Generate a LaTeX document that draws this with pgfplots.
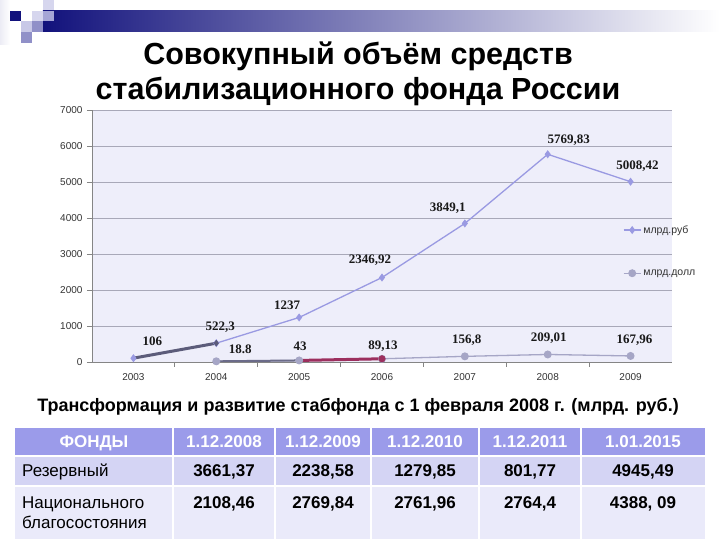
\documentclass[border=0pt]{standalone}
\usepackage{pgfplots}
\pgfplotsset{compat=1.18}
\usepackage{fontspec}
\setmainfont{Liberation Sans}
\newfontfamily\timesf{Liberation Serif}

\definecolor{navyc}{HTML}{12127C}
\definecolor{sqA}{HTML}{D6D6EE}
\definecolor{sqB}{HTML}{A6A6D6}
\definecolor{sqC}{HTML}{9090C8}
\definecolor{plotbg}{HTML}{EEEEFA}
\definecolor{gridc}{HTML}{A8A8B8}
\definecolor{axisgray}{HTML}{858585}
\definecolor{labgray}{HTML}{333333}
\definecolor{rub}{HTML}{9A9AE2}
\definecolor{usd}{HTML}{A6A6C6}
\definecolor{slate}{HTML}{5C5C7A}
\definecolor{maroon}{HTML}{9C2F5E}
\definecolor{hdr}{HTML}{9B9BEA}
\definecolor{rowa}{HTML}{D4D4F4}
\definecolor{rowb}{HTML}{EAEAFA}

\begin{document}
\begin{tikzpicture}[x=1pt,y=1pt]
% slide decoration, title, subtitle and table (image coordinates, y down)
\begin{scope}[shift={(-92,362)},yscale=-1]
  \fill[white] (0,0) rectangle (720,540);
  \useasboundingbox (0,0) rectangle (720,540);
  \shade[left color=white!92!navyc, right color=white] (0,0) rectangle (10,45);
  \shade[left color=navyc, right color=white] (43,11) rectangle (720,32);
  \fill[navyc] (10,11) rectangle (21,21);
  \fill[sqA] (43,0) rectangle (54,10);
  \fill[sqA] (32,11) rectangle (43,21);
  \fill[sqB] (43,11) rectangle (54,21);
  \fill[sqA!70!sqB] (21,21) rectangle (32,32);
  \fill[sqC] (32,21) rectangle (43,32);
  \fill[sqC] (21,32) rectangle (32,43);

  \node[anchor=base, font=\fontsize{30.5}{35}\selectfont\bfseries] at (358,65) {Совокупный объём средств};
  \node[anchor=base, font=\fontsize{30.5}{35}\selectfont\bfseries] at (358,100) {стабилизационного фонда России};

  \node[anchor=base, font=\fontsize{18}{21}\selectfont\bfseries] at (358,412)
    {Трансформация и развитие стабфонда с 1 февраля 2008 г. (млрд. руб.)};

  % table
  \fill[hdr] (15,428) rectangle (705,456);
  \fill[rowa] (15,456) rectangle (705,486);
  \fill[rowb] (15,486) rectangle (705,539);
  \foreach \cx in {173,275,371,479,581} \draw[white, line width=2pt] (\cx,428) -- (\cx,539);
  \foreach \ry in {456,486} \draw[white, line width=2pt] (15,\ry) -- (705,\ry);

  \begin{scope}[every node/.style={anchor=base, font=\fontsize{17}{20}\selectfont\bfseries}]
    \node[text=white] at (94,448) {ФОНДЫ};
    \node[text=white] at (224,448) {1.12.2008};
    \node[text=white] at (323,448) {1.12.2009};
    \node[text=white] at (425,448) {1.12.2010};
    \node[text=white] at (530,448) {1.12.2011};
    \node[text=white] at (643,448) {1.01.2015};
    \node at (224,477) {3661,37};
    \node at (323,477) {2238,58};
    \node at (425,477) {1279,85};
    \node at (530,477) {801,77};
    \node at (643,477) {4945,49};
    \node at (224,509) {2108,46};
    \node at (323,509) {2769,84};
    \node at (425,509) {2761,96};
    \node at (530,509) {2764,4};
    \node at (643,509) {4388, 09};
  \end{scope}
  \begin{scope}[every node/.style={anchor=base west, inner sep=0pt, font=\fontsize{17}{20}\selectfont}]
    \node at (22,477) {Резервный};
    \node at (22,509) {Национального};
    \node at (22,529) {благосостояния};
  \end{scope}
\end{scope}

\begin{axis}[
  at={(0,0)}, anchor=south west,
  width=580pt, height=252pt, scale only axis,
  xmin=-0.5, xmax=6.5, ymin=0, ymax=7000,
  axis x line*=bottom, axis y line*=left,
  axis line style={-, draw=axisgray, line width=0.8pt},
  axis background/.style={fill=plotbg},
  xtick={0,...,6},
  xticklabels={2003,2004,2005,2006,2007,2008,2009},
  minor xtick={0.5,1.5,...,5.5},
  ytick={0,1000,...,7000},
  ymajorgrids, grid style={draw=gridc, line width=0.7pt},
  tick align=outside, major tick length=5pt, minor tick length=5pt,
  tick style={draw=axisgray, line width=0.8pt},
  major x tick style={draw=none},
  ticklabel style={font=\fontsize{10}{12}\selectfont, text=labgray},
  xticklabel style={yshift=-3pt},
  yticklabel style={xshift=-1pt},
  /pgf/number format/1000 sep={},
  /pgf/number format/assume math mode=true,
  legend cell align=left,
  legend style={at={(0.91,0.44)}, anchor=west, draw=none, fill=none,
    font=\fontsize{10.5}{12}\selectfont, text=labgray, row sep=31pt},
]
\addplot[color=rub, line width=1.3pt, mark=diamond*, mark size=3pt]
  coordinates {(0,106) (1,522.3) (2,1237) (3,2346.92) (4,3849.1) (5,5769.83) (6,5008.42)};
\addlegendentry{млрд.руб}
\addplot[color=usd, line width=1.3pt, mark=*, mark size=3.3pt]
  coordinates {(1,18.8) (2,43) (3,89.13) (4,156.8) (5,209.01) (6,167.96)};
\addlegendentry{млрд.долл}

% highlighted segments
\addplot[forget plot, color=slate, line width=3pt] coordinates {(0,106) (1,522.3)};
\addplot[forget plot, color=slate!80!usd, line width=2pt] coordinates {(1,18.8) (2,43)};
\addplot[forget plot, color=maroon, line width=3pt] coordinates {(2,43) (3,89.13)};
\addplot[forget plot, only marks, mark=diamond*, mark size=3pt, color=rub] coordinates {(0,106)};
\addplot[forget plot, only marks, mark=diamond*, mark size=3pt, color=slate] coordinates {(1,522.3)};
\addplot[forget plot, only marks, mark=*, mark size=3.3pt, color=usd] coordinates {(1,18.8) (2,43)};
\addplot[forget plot, only marks, mark=*, mark size=3.3pt, color=maroon] coordinates {(3,89.13)};

\begin{scope}[every node/.style={font=\fontsize{13}{15}\timesf\bfseries, text=black!90}]
\node[xshift=19pt, yshift=17pt] at (axis cs:0,106) {106};
\node[xshift=4pt, yshift=16pt] at (axis cs:1,522.3) {522,3};
\node[xshift=-12pt, yshift=12pt] at (axis cs:2,1237) {1237};
\node[xshift=-12pt, yshift=17pt] at (axis cs:3,2346.92) {2346,92};
\node[xshift=-17pt, yshift=15pt] at (axis cs:4,3849.1) {3849,1};
\node[xshift=21pt, yshift=14pt] at (axis cs:5,5769.83) {5769,83};
\node[xshift=7pt, yshift=16pt] at (axis cs:6,5008.42) {5008,42};
\node[xshift=24pt, yshift=12pt] at (axis cs:1,18.8) {18.8};
\node[xshift=1pt, yshift=14pt] at (axis cs:2,43) {43};
\node[xshift=1pt, yshift=13pt] at (axis cs:3,89.13) {89,13};
\node[xshift=2pt, yshift=16pt] at (axis cs:4,156.8) {156,8};
\node[xshift=1pt, yshift=16pt] at (axis cs:5,209.01) {209,01};
\node[xshift=4pt, yshift=16pt] at (axis cs:6,167.96) {167,96};
\end{scope}
\end{axis}
\end{tikzpicture}
\end{document}
